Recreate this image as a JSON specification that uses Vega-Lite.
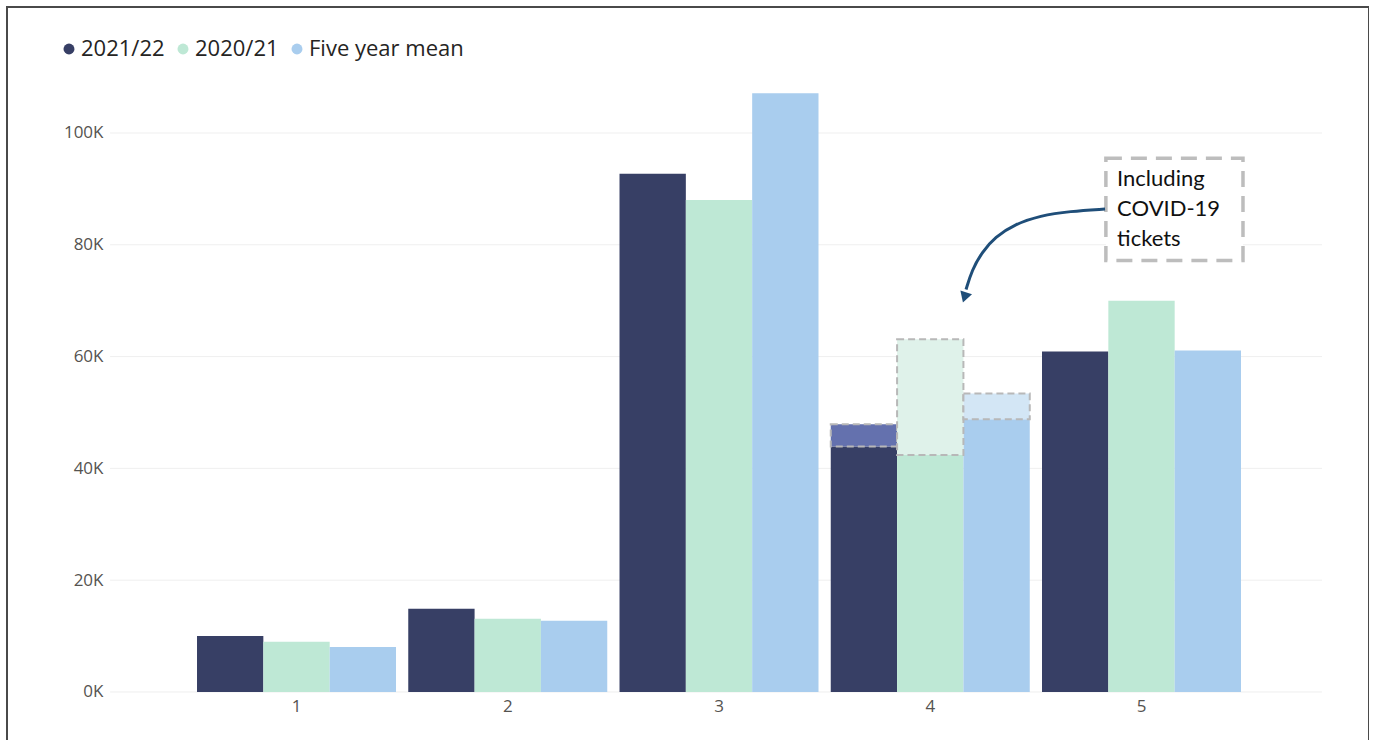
{
  "$schema": "https://vega.github.io/schema/vega-lite/v6.json",
  "width": 1362,
  "height": 760,
  "autosize": {"type": "none"},
  "padding": {"left": 7, "top": 7, "right": 0, "bottom": 0},
  "background": "#ffffff",
  "config": {
    "view": {"stroke": "#4a4a4a", "strokeWidth": 2},
    "font": "Open Sans"
  },
  "resolve": {"scale": {"x": "independent", "color": "independent"}},
  "layer": [
    {
      "data": {"values": [{"tick": 0}, {"tick": 20000}, {"tick": 40000}, {"tick": 60000}, {"tick": 80000}, {"tick": 100000}]},
      "mark": {"type": "rule", "color": "#efefef", "strokeWidth": 1},
      "encoding": {
        "y": {"field": "tick", "type": "quantitative", "title": null, "scale": {"domain": [-13420, 122540], "nice": false, "zero": false},
          "axis": {"values": [0, 20000, 40000, 60000, 80000, 100000], "labelExpr": "datum.value / 1000 + 'K'", "grid": false, "domain": false, "ticks": false, "tickSize": 0, "labelPadding": 2, "offset": -98, "labelFontSize": 17, "labelColor": "#555350", "labelFont": "Open Sans", "title": null}},
        "x": {"datum": 0.115, "type": "quantitative", "scale": {"domain": [-0.3728, 6.0745], "nice": false, "zero": false}, "axis": null},
        "x2": {"datum": 5.852}
      }
    },
    {
      "resolve": {"scale": {"color": "independent"}},
      "layer": [
        {
          "data": {"values": [
            {"group": "1", "series": "2021/22", "value": 10000},
            {"group": "1", "series": "2020/21", "value": 9000},
            {"group": "1", "series": "Five year mean", "value": 8050},
            {"group": "2", "series": "2021/22", "value": 14900},
            {"group": "2", "series": "2020/21", "value": 13100},
            {"group": "2", "series": "Five year mean", "value": 12750},
            {"group": "3", "series": "2021/22", "value": 92700},
            {"group": "3", "series": "2020/21", "value": 88000},
            {"group": "3", "series": "Five year mean", "value": 107100},
            {"group": "4", "series": "2021/22", "value": 43900},
            {"group": "4", "series": "2020/21", "value": 42400},
            {"group": "4", "series": "Five year mean", "value": 48800},
            {"group": "5", "series": "2021/22", "value": 60900},
            {"group": "5", "series": "2020/21", "value": 70000},
            {"group": "5", "series": "Five year mean", "value": 61100}
          ]},
          "mark": {"type": "bar"},
          "encoding": {
            "x": {"field": "group", "type": "nominal", "sort": ["1", "2", "3", "4", "5"],
              "scale": {"domain": ["1", "2", "3", "4", "5"], "paddingInner": 0.058, "paddingOuter": 0.7527, "align": 0.5975},
              "axis": {"title": null, "domain": false, "ticks": false, "tickSize": 0, "labelPadding": 0, "offset": -61, "labelBaseline": "middle", "labelAngle": 0, "labelFontSize": 17, "labelColor": "#555350", "labelFont": "Open Sans"}},
            "xOffset": {"field": "series", "type": "nominal", "sort": ["2021/22", "2020/21", "Five year mean"],
              "scale": {"domain": ["2021/22", "2020/21", "Five year mean"], "paddingInner": 0, "paddingOuter": 0}},
            "y": {"field": "value", "type": "quantitative", "stack": null, "title": null, "scale": {"domain": [-13420, 122540], "nice": false, "zero": false}},
            "y2": {"datum": 0},
            "color": {"field": "series", "type": "nominal",
              "scale": {"domain": ["2021/22", "2020/21", "Five year mean"], "range": ["#373F65", "#BEE8D5", "#A9CDEE"]},
              "legend": {"orient": "none", "legendX": 51, "legendY": 31, "direction": "horizontal", "title": null, "symbolType": "circle", "symbolSize": 120, "symbolStrokeWidth": 0, "labelFontSize": 22, "labelColor": "#252423", "labelFont": "Open Sans", "labelOffset": 1, "columnPadding": 7, "padding": 0}}
          }
        },
        {
          "data": {"values": [
            {"group": "4", "series": "2021/22", "base": 43900, "top": 47900},
            {"group": "4", "series": "2020/21", "base": 42400, "top": 63100},
            {"group": "4", "series": "Five year mean", "base": 48800, "top": 53400}
          ]},
          "mark": {"type": "bar", "stroke": "#b8b8b8", "strokeWidth": 2, "strokeDash": [7, 4]},
          "encoding": {
            "x": {"field": "group", "type": "nominal", "sort": ["1", "2", "3", "4", "5"],
              "scale": {"domain": ["1", "2", "3", "4", "5"], "paddingInner": 0.058, "paddingOuter": 0.7527, "align": 0.5975}},
            "xOffset": {"field": "series", "type": "nominal", "sort": ["2021/22", "2020/21", "Five year mean"],
              "scale": {"domain": ["2021/22", "2020/21", "Five year mean"], "paddingInner": 0, "paddingOuter": 0}},
            "y": {"field": "top", "type": "quantitative", "stack": null, "title": null, "scale": {"domain": [-13420, 122540], "nice": false, "zero": false}},
            "y2": {"field": "base"},
            "color": {"field": "series", "type": "nominal",
              "scale": {"domain": ["2021/22", "2020/21", "Five year mean"], "range": ["#6471AE", "#DFF2EA", "#D3E6F5"]},
              "legend": null}
          }
        }
      ]
    },
    {
      "layer": [
        {
          "data": {"values": [{"note": "box"}]},
          "mark": {"type": "rect", "fill": "#ffffff", "stroke": "#bdbdbd", "strokeWidth": 3.5, "strokeDash": [16, 9]},
          "encoding": {
            "x": {"datum": 4.829, "type": "quantitative", "scale": {"domain": [-0.3728, 6.0745], "nice": false, "zero": false}, "axis": null},
            "x2": {"datum": 5.478},
            "y": {"datum": 95500, "type": "quantitative", "title": null, "scale": {"domain": [-13420, 122540], "nice": false, "zero": false}},
            "y2": {"datum": 77200}
          }
        },
        {
          "data": {"values": [
            {"px": 4.825, "py": 86400},
            {"px": 4.659, "py": 86000},
            {"px": 4.517, "py": 85200},
            {"px": 4.399, "py": 83700},
            {"px": 4.304, "py": 81400},
            {"px": 4.243, "py": 78700},
            {"px": 4.195, "py": 75500},
            {"px": 4.167, "py": 72000}
          ]},
          "mark": {"type": "line", "color": "#1F4E79", "strokeWidth": 3, "interpolate": "basis"},
          "encoding": {
            "x": {"field": "px", "type": "quantitative", "scale": {"domain": [-0.3728, 6.0745], "nice": false, "zero": false}, "axis": null},
            "y": {"field": "py", "type": "quantitative", "title": null, "scale": {"domain": [-13420, 122540], "nice": false, "zero": false}}
          }
        },
        {
          "data": {"values": [{"note": "head"}]},
          "mark": {"type": "point", "shape": "triangle-down", "filled": true, "color": "#1F4E79", "size": 150, "angle": 18, "opacity": 1},
          "encoding": {
            "x": {"datum": 4.16, "type": "quantitative", "scale": {"domain": [-0.3728, 6.0745], "nice": false, "zero": false}, "axis": null},
            "y": {"datum": 70600, "type": "quantitative", "title": null, "scale": {"domain": [-13420, 122540], "nice": false, "zero": false}}
          }
        },
        {
          "data": {"values": [{"label": "Including\nCOVID-19\ntickets"}]},
          "mark": {"type": "text", "align": "left", "baseline": "middle", "lineBreak": "\n", "lineHeight": 30, "font": "Lato", "fontSize": 22, "color": "#111111"},
          "encoding": {
            "text": {"field": "label"},
            "x": {"datum": 4.882, "type": "quantitative", "scale": {"domain": [-0.3728, 6.0745], "nice": false, "zero": false}, "axis": null},
            "y": {"datum": 91700, "type": "quantitative", "title": null, "scale": {"domain": [-13420, 122540], "nice": false, "zero": false}}
          }
        }
      ]
    }
  ]
}
